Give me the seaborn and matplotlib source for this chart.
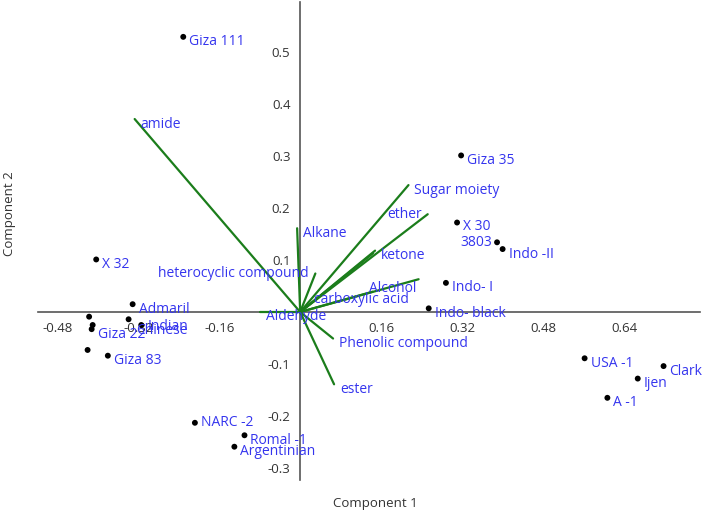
import matplotlib
matplotlib.use("Agg")
import matplotlib.pyplot as plt
import seaborn as sns
import pandas as pd

# PCA scores (samples)
sample_names = ["Giza 111", "X 32", "Admaril", "Chinese", "Indian", "", "",
                "Giza 22", "", "Giza 83", "Giza 35", "X 30", "3803", "Indo -II",
                "Indo- I", "Indo- black", "USA -1", "Clark", "Ijen", "A -1",
                "NARC -2", "Romal -1", "Argentinian"]
comp1 = [-0.231, -0.403, -0.331, -0.339, -0.314, -0.417, -0.410,
         -0.412, -0.420, -0.380, 0.318, 0.310, 0.389, 0.400,
         0.288, 0.254, 0.562, 0.718, 0.667, 0.607,
         -0.208, -0.110, -0.130]
comp2 = [0.529, 0.101, 0.015, -0.014, -0.025, -0.009, -0.025,
         -0.033, -0.073, -0.084, 0.301, 0.172, 0.134, 0.121,
         0.056, 0.007, -0.089, -0.104, -0.128, -0.165,
         -0.213, -0.237, -0.259]

# loadings (variables)
var_names = ["amide", "Alkane", "heterocyclic compound", "Sugar moiety", "ether",
             "ketone", "", "Alcohol", "carboxylic acid", "Aldehyde",
             "Phenolic compound", "ester"]
load1 = [-0.327, -0.006, 0.030, 0.214, 0.252, 0.148, 0.144, 0.234, 0.143,
         -0.079, 0.065, 0.067]
load2 = [0.371, 0.161, 0.074, 0.244, 0.188, 0.118, 0.113, 0.063, 0.039,
         0.0, -0.051, -0.139]

x_ticks = [-0.48, -0.32, -0.16, 0.16, 0.32, 0.48, 0.64]
y_ticks = [-0.3, -0.2, -0.1, 0.1, 0.2, 0.3, 0.4, 0.5]

# label placement (pixels right/down from the point), alignment
label_offsets = {"Chinese": (8, 11, "left"), "Indian": (6, 1, "left"),
                 "3803": (-5, 0, "right"), "NARC -2": (6, 0, "left"),
                 "X 30": (6, 4, "left"),
                 "ether": (-6, 0, "right"),
                 "heterocyclic compound": (-7, 0, "right"),
                 "Alcohol": (-2, 9, "right"),
                 "carboxylic acid": (-59, 8, "left")}
default_offset = (6, 5, "left")

BLUE = "#3535ee"
GREEN = "#1b7d1b"
AXIS = "#555555"

sns.set_style("white")
plt.rcParams["font.family"] = ["Open Sans", "DejaVu Sans"]

fig = plt.figure(figsize=(7.08, 5.13), dpi=100)
ax = fig.add_axes([38 / 708, 1 - 480 / 513, 662 / 708, 478 / 513])
ax.set_xlim(-0.518, 0.79)
ax.set_ylim(-0.323, 0.596)

for name, lx, ly in zip(var_names, load1, load2):
    ax.plot([0, lx], [0, ly], color=GREEN, lw=1.6, zorder=2)

scores = pd.DataFrame({"c1": comp1, "c2": comp2, "name": sample_names})
sns.scatterplot(data=scores, x="c1", y="c2", color="black", s=18,
                edgecolor="none", ax=ax, zorder=3)


def put_label(text, x, y):
    if not text:
        return
    dx, dy, ha = label_offsets.get(text, default_offset)
    ax.annotate(text, xy=(x, y), xytext=(dx * 0.72, -dy * 0.72),
                textcoords="offset points", ha=ha, va="center",
                color=BLUE, fontsize=10, zorder=4)


for name, x, y in zip(sample_names, comp1, comp2):
    put_label(name, x, y)
for name, x, y in zip(var_names, load1, load2):
    put_label(name, x, y)

# axes crossing at the origin
ax.spines["left"].set_position(("data", 0))
ax.spines["bottom"].set_position(("data", 0))
ax.spines["top"].set_visible(False)
ax.spines["right"].set_visible(False)
for s in ("left", "bottom"):
    ax.spines[s].set_color(AXIS)
    ax.spines[s].set_linewidth(1.2)
    ax.spines[s].set_zorder(1)

ax.set_xticks(x_ticks)
ax.set_xticklabels([f"{t:.2f}" for t in x_ticks])
ax.set_yticks(y_ticks)
ax.set_yticklabels([f"{t:.1f}" for t in y_ticks])
ax.tick_params(axis="both", direction="out", length=4, width=1.1,
               color=AXIS, labelcolor="#333333", labelsize=9.5, pad=3)
ax.set_xlabel("")
ax.set_ylabel("")
ax.patch.set_alpha(0)

fig.text(375 / 708, 1 - 503 / 513, "Component 1", ha="center", va="center",
         fontsize=9.5, color="#333333")
fig.text(10 / 708, 1 - 214 / 513, "Component 2", ha="center", va="center",
         rotation=90, fontsize=9.5, color="#333333")

fig.savefig("out.png", dpi=100)
